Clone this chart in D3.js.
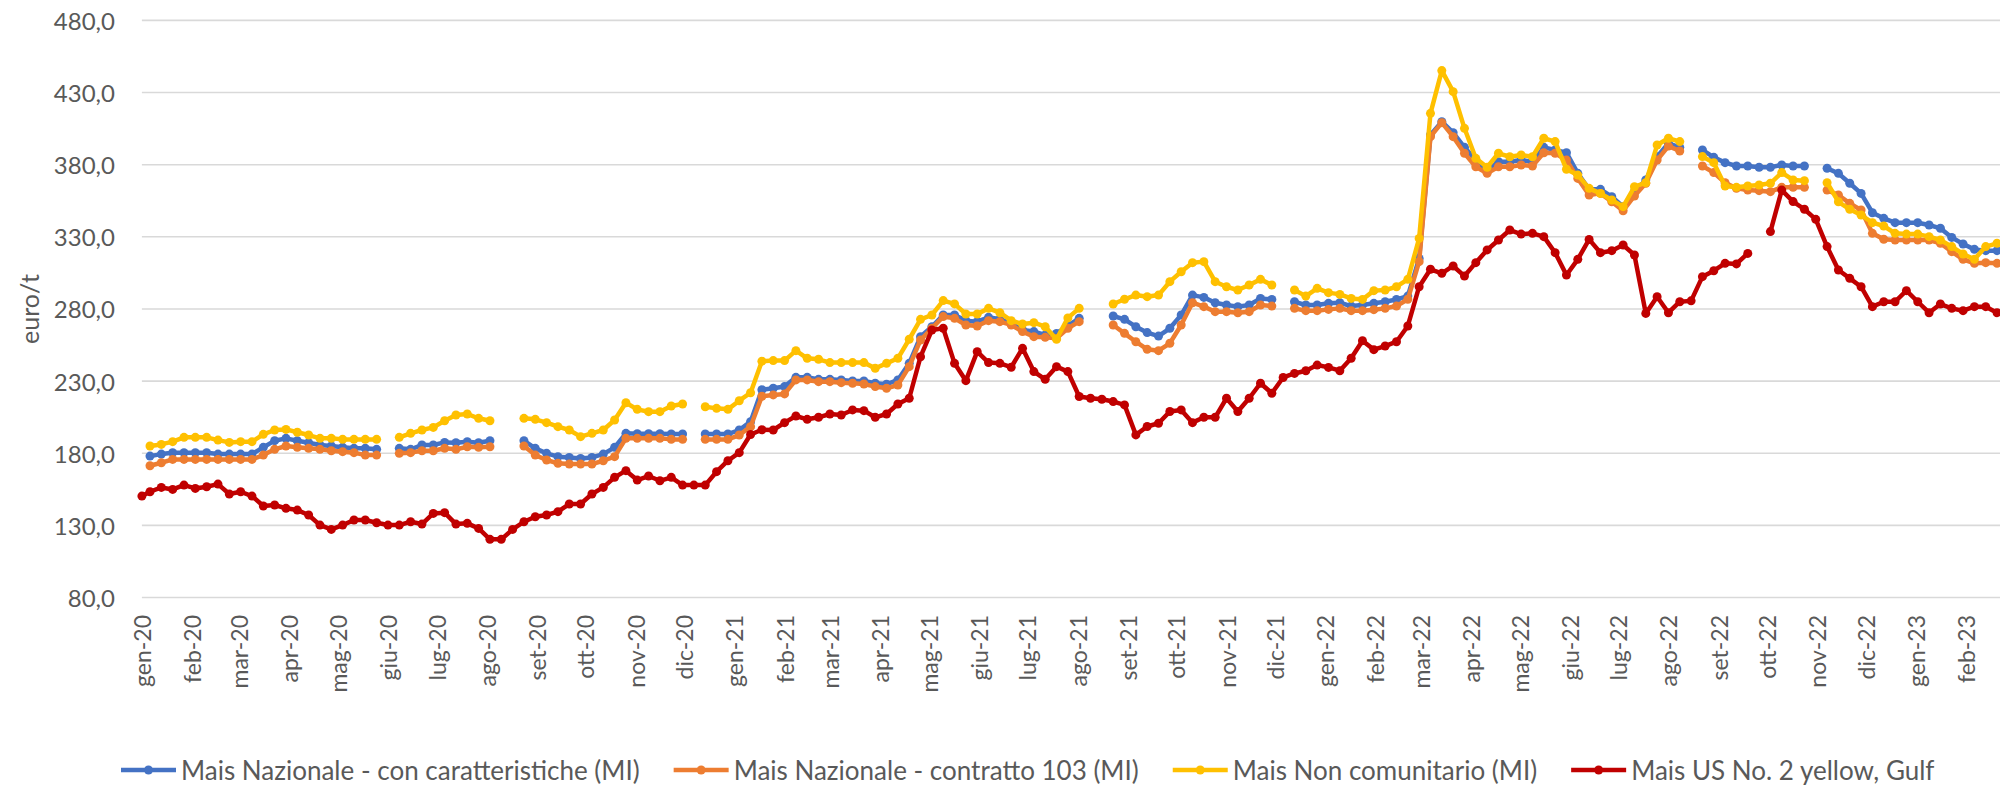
<!DOCTYPE html>
<html>
<head>
<meta charset="utf-8">
<script src="https://cdn.jsdelivr.net/npm/d3@7"></script>
<style>
  html, body { margin: 0; padding: 0; background: #ffffff; }
  svg { display: block; }
  text { font-family: Lato, "Open Sans", sans-serif; }
</style>
</head>
<body>
<svg id="chart" width="2000" height="786"></svg>
<script>
// ---------- DATA ----------
// Red series has an extra first observation on 2020-01-01; weekly observations start on 2020-01-06.
const firstDay = "2020-01-01";
const firstWeek = "2020-01-06";
const weekCount = 164;

const yTicks = [80, 130, 180, 230, 280, 330, 380, 430, 480];
const monthLabels = ["gen", "feb", "mar", "apr", "mag", "giu", "lug", "ago", "set", "ott", "nov", "dic"];
const seriesNames = [
  "Mais Nazionale - con caratteristiche (MI)",
  "Mais Nazionale - contratto 103 (MI)",
  "Mais Non comunitario (MI)",
  "Mais US No. 2 yellow, Gulf"
];
const seriesColors = ["#4472C4", "#ED7D31", "#FFC000", "#C00000"];

// values on the weekly grid (index 0 = 2020-01-06), null = no quotation
const maisNazionaleCaratt = [
  178.0,179.4,180.4,180.4,180.4,180.4,179.4,179.4,179.4,179.4,
  184.1,188.7,190.3,188.7,187.3,185.7,185.0,184.1,183.4,183.4,
  182.7,null,183.4,182.7,185.7,185.7,187.5,187.3,188.0,187.3,
  188.7,null,null,188.7,183.4,179.9,177.6,177.1,176.4,177.1,
  179.4,184.1,193.8,193.5,193.5,193.5,193.3,193.3,null,193.3,
  193.3,193.3,196.1,201.9,224.0,225.0,226.2,232.6,232.6,231.2,
  231.2,230.8,230.1,230.1,228.5,227.8,230.8,242.3,260.8,267.7,
  275.8,275.8,271.9,271.2,274.2,272.8,270.1,265.4,264.3,262.0,
  263.0,268.5,273.5,null,null,275.1,272.8,267.7,263.6,261.2,
  266.6,275.8,289.6,288.0,284.3,282.7,281.6,282.7,287.3,286.6,
  null,285.0,282.7,282.7,283.9,284.3,282.0,282.7,283.9,285.0,
  286.6,288.9,315.0,400.6,409.8,402.2,392.0,383.2,376.3,382.0,
  382.0,383.2,382.0,392.0,390.2,388.3,374.0,362.9,362.9,357.8,
  350.9,361.3,369.4,385.5,394.8,392.0,null,390.2,385.1,381.4,
  379.1,379.1,378.2,378.2,379.8,379.1,379.1,null,377.5,374.0,
  367.1,360.1,346.7,342.8,339.8,339.8,339.8,338.2,335.9,329.6,
  325.0,321.3,320.4,320.4
];
const maisNazionale103 = [
  171.3,173.4,175.7,175.7,175.7,175.7,175.7,175.7,175.7,175.7,
  178.7,182.7,185.0,184.1,183.4,182.7,181.7,181.1,180.4,178.7,
  178.7,null,179.9,180.4,181.7,181.7,183.4,182.7,184.5,184.1,
  184.5,null,null,185.0,178.7,175.3,173.0,172.5,172.5,172.5,
  174.8,177.6,190.3,190.3,190.3,190.3,189.6,189.6,null,189.6,
  189.6,189.6,192.6,198.4,219.5,220.4,221.1,230.8,230.8,229.6,
  229.6,228.9,228.5,228.0,226.2,225.0,227.3,240.0,258.5,266.6,
  274.7,273.5,268.9,268.2,271.9,271.2,268.9,264.3,260.8,260.3,
  259.6,266.6,271.2,null,null,268.9,263.1,257.3,252.0,251.1,
  256.2,268.9,284.3,281.6,278.1,278.1,277.4,278.1,282.7,282.0,
  null,280.4,278.8,278.8,279.7,280.4,278.8,278.8,279.5,280.4,
  282.0,286.7,312.8,399.4,409.1,399.4,387.9,378.6,374.0,378.6,
  378.6,379.8,379.1,388.3,387.9,383.2,370.5,359.0,360.1,354.3,
  348.1,358.3,367.1,383.2,392.9,389.5,null,379.1,374.5,367.5,
  363.6,362.4,362.0,361.3,364.3,364.3,364.3,null,362.4,359.0,
  353.2,348.6,332.4,328.3,327.8,327.8,327.8,327.8,325.5,319.7,
  314.4,311.6,312.1,311.6
];
const maisNonComunitario = [
  185.0,186.1,188.0,191.0,191.0,191.0,189.1,187.5,188.0,188.0,
  193.1,196.1,196.5,194.5,192.6,190.3,190.3,189.6,189.6,189.6,
  189.6,null,191.0,193.8,196.1,197.9,202.5,206.5,207.2,204.2,
  202.5,null,null,204.2,203.5,201.2,198.4,196.1,191.5,193.8,
  196.1,203.0,215.0,210.4,208.8,208.8,212.7,214.1,null,212.2,
  211.1,210.4,216.4,221.9,243.8,244.2,244.2,251.1,245.8,245.1,
  242.8,242.8,242.8,242.8,238.9,242.3,245.8,259.0,272.8,275.8,
  285.8,283.5,276.5,276.5,280.4,277.4,271.9,269.6,270.5,267.7,
  259.0,273.8,280.4,null,null,283.4,286.7,289.6,288.5,289.6,
  298.9,305.8,312.1,312.8,298.9,295.4,293.1,296.6,300.5,296.6,
  null,293.1,288.9,294.3,291.3,290.1,287.3,286.6,292.7,293.1,
  295.4,300.5,328.9,415.6,445.2,430.6,405.2,384.4,378.2,387.9,
  385.5,386.7,385.5,398.3,396.0,376.8,372.8,363.6,360.1,355.5,
  350.9,364.7,367.5,393.6,398.3,396.0,null,385.6,381.4,365.2,
  364.3,365.2,365.9,367.1,374.5,369.4,368.9,null,367.5,354.3,
  349.1,345.1,339.8,337.5,332.4,331.9,331.9,330.1,327.8,323.2,
  318.1,314.4,323.2,325.5
];
const maisUSFirstDay = 150.3;   // 2020-01-01
const maisUSGulf = [
  153.3,156.3,154.9,157.9,155.6,156.8,158.6,151.7,153.3,150.3,
  143.4,144.1,141.8,140.6,137.2,130.2,127.2,130.2,133.7,133.7,
  131.8,130.2,130.2,132.5,130.9,138.3,138.8,130.9,131.4,127.9,
  120.3,120.3,127.2,132.5,136.0,137.2,139.5,144.8,144.8,151.7,
  156.3,163.3,167.9,161.4,164.2,160.9,163.3,157.9,157.9,157.9,
  167.2,174.8,180.4,193.0,196.3,196.1,201.2,205.8,203.5,204.9,
  207.2,206.5,210.0,209.5,204.9,207.2,214.1,218.1,246.9,265.4,
  266.6,242.3,230.3,250.4,242.8,242.3,239.6,252.7,236.6,231.2,
  240.0,236.6,219.3,218.1,217.4,215.8,213.5,192.7,198.5,200.8,
  208.9,210.0,201.2,204.9,204.9,218.1,208.9,218.1,228.5,221.6,
  232.5,235.3,237.2,241.1,239.5,237.2,245.8,258.0,251.8,254.3,
  257.3,268.2,295.4,307.5,304.7,309.8,302.8,312.1,320.9,327.8,
  334.7,331.9,332.4,330.1,319.0,303.5,314.4,328.2,319.0,320.4,
  324.3,317.4,276.9,288.5,277.4,285.0,285.6,302.4,306.5,311.6,
  311.2,318.5,null,333.6,362.4,354.4,349.1,342.1,323.2,307.0,
  301.2,295.4,281.6,285.0,285.0,292.7,285.0,277.4,283.4,280.4,
  278.8,281.6,281.6,277.4
];

// ---------- LAYOUT ----------
const W = 2000, H = 786;
const plot = { left: 141.9, right: 2000.3, top: 20.4, bottom: 597.5 };
const parse = d3.timeParse("%Y-%m-%d");
const dayStart = parse(firstDay);
const weekStart = parse(firstWeek);
const weeks = d3.range(weekCount).map(i => d3.timeDay.offset(weekStart, 7 * i));
const domainEnd = d3.timeDay.offset(weeks[weeks.length - 1], 2);

const x = d3.scaleTime().domain([dayStart, domainEnd]).range([plot.left, plot.right]);
const y = d3.scaleLinear().domain([80, 480]).range([plot.bottom, plot.top]);

const itLocale = d3.formatLocale({ decimal: ",", thousands: ".", grouping: [3], currency: ["€", ""] });
const fmt = itLocale.format(".1f");

const svg = d3.select("#chart");
svg.append("rect").attr("width", W).attr("height", H).attr("fill", "#ffffff");

// gridlines
svg.append("g").selectAll("line").data(yTicks).join("line")
  .attr("x1", plot.left).attr("x2", W)
  .attr("y1", d => y(d)).attr("y2", d => y(d))
  .attr("stroke", "#d9d9d9").attr("stroke-width", 1.6);

// y axis labels
svg.append("g").selectAll("text").data(yTicks).join("text")
  .attr("x", 115).attr("y", d => y(d))
  .attr("text-anchor", "end").attr("dominant-baseline", "central")
  .attr("font-size", 24).attr("fill", "#595959")
  .text(d => fmt(d));

// y axis title
svg.append("text")
  .attr("transform", "translate(29,309) rotate(-90)")
  .attr("text-anchor", "middle").attr("dominant-baseline", "central")
  .attr("font-size", 25).attr("fill", "#595959")
  .text("euro/t");

// x axis labels (month starts)
const months = x.ticks(d3.timeMonth.every(1)).filter(d => d >= dayStart && d <= domainEnd);
svg.append("g").selectAll("text").data(months).join("text")
  .attr("transform", d => `translate(${x(d)},615) rotate(-90)`)
  .attr("text-anchor", "end").attr("dominant-baseline", "central")
  .attr("font-size", 23).attr("fill", "#595959")
  .text(d => monthLabels[d.getMonth()] + "-" + d3.timeFormat("%y")(d));

// series
function toPoints(vals) { return vals.map((v, i) => ({ d: weeks[i], v })); }
const series = [
  toPoints(maisNazionaleCaratt),
  toPoints(maisNazionale103),
  toPoints(maisNonComunitario),
  [{ d: dayStart, v: maisUSFirstDay }].concat(toPoints(maisUSGulf))
];

const line = d3.line().defined(p => p.v != null).x(p => x(p.d)).y(p => y(p.v));
const gSeries = svg.append("g");
series.forEach((pts, si) => {
  const g = gSeries.append("g");
  g.append("path").datum(pts).attr("d", line)
    .attr("fill", "none").attr("stroke", seriesColors[si])
    .attr("stroke-width", 4.5).attr("stroke-linejoin", "round").attr("stroke-linecap", "round");
  g.selectAll("circle").data(pts.filter(p => p.v != null)).join("circle")
    .attr("cx", p => x(p.d)).attr("cy", p => y(p.v)).attr("r", 4.5)
    .attr("fill", seriesColors[si]);
});

// legend
const legend = svg.append("g");
let lx = 121;
const ly = 770;
seriesNames.forEach((name, i) => {
  const g = legend.append("g");
  g.append("line").attr("x1", lx).attr("x2", lx + 55).attr("y1", ly).attr("y2", ly)
    .attr("stroke", seriesColors[i]).attr("stroke-width", 4.5);
  g.append("circle").attr("cx", lx + 27.5).attr("cy", ly).attr("r", 4.5).attr("fill", seriesColors[i]);
  const t = g.append("text").attr("x", lx + 60).attr("y", ly)
    .attr("dominant-baseline", "central").attr("font-size", 26).attr("fill", "#595959")
    .text(name);
  lx = lx + 60 + t.node().getComputedTextLength() + 34;
});
</script>
</body>
</html>
